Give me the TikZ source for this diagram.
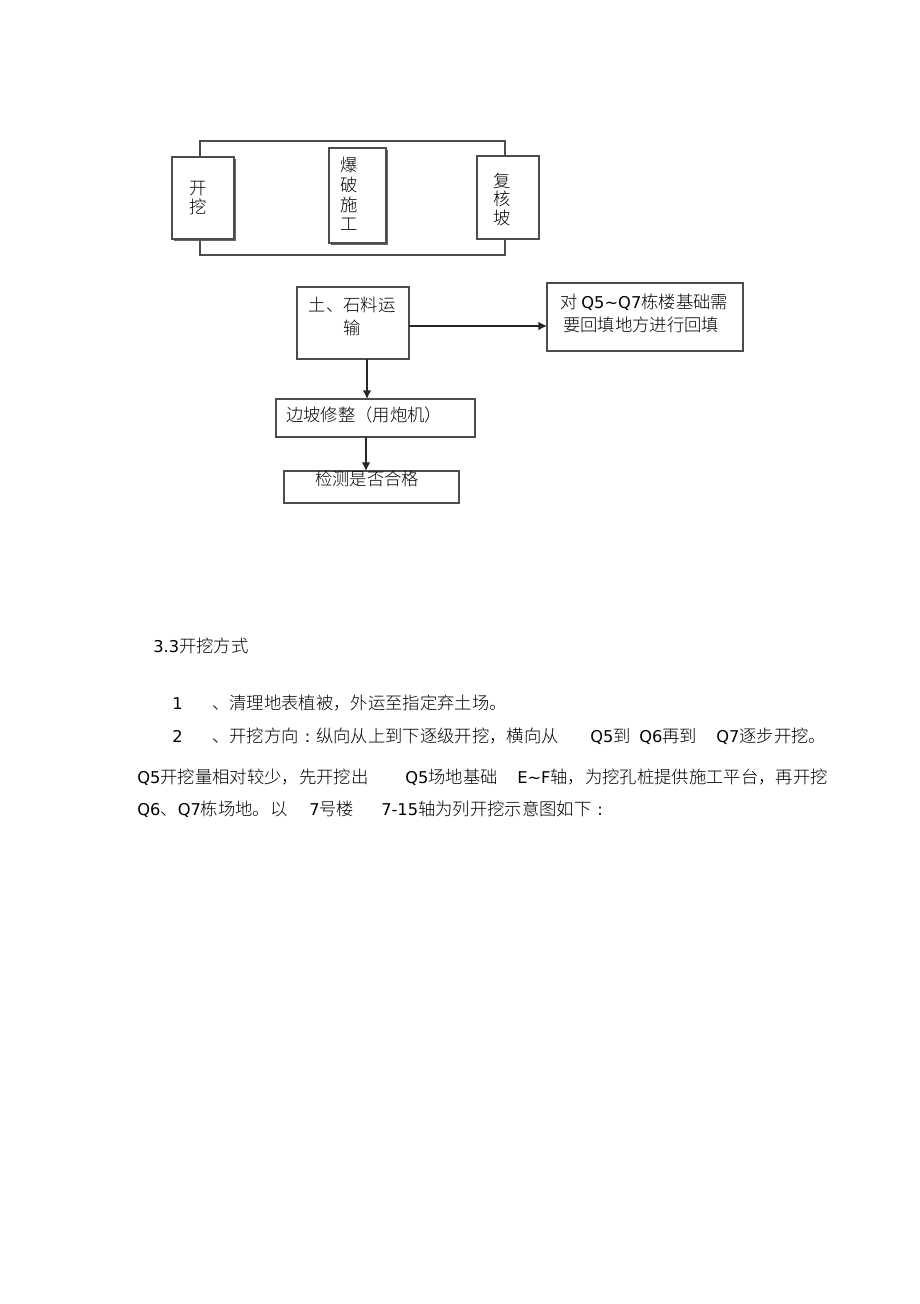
\documentclass[tikz,border=0pt]{standalone}
\usepackage{fontspec}
\setmainfont{Noto Sans CJK SC}[UprightFont=* Light]
\newfontfamily\latf{DejaVu Sans}
\newcommand\lt[1]{{\latf\fontsize{12.2}{14}\selectfont #1}}
\newcommand\fwcolon{\makebox[13pt]{\lt{:}}}
\usetikzlibrary{arrows.meta,shadows}
\newdimen\px \px=0.75pt
\begin{document}
\begin{tikzpicture}[x=0.75pt,y=-0.75pt,
  box/.style={draw=black!70, line width=1pt, fill=white, inner sep=0pt, outer sep=0pt},
  shbox/.style={box, general shadow={fill=black!60, shadow xshift=1.3pt, shadow yshift=-1.3pt}},
  lbl/.style={inner sep=0pt, font=\fontsize{13}{15}\selectfont, text height=11.4pt, text depth=1.6pt},
  para/.style={lbl, anchor=west},
  arr/.style={draw=black!85, line width=1pt, -{Latex[length=6.5pt,width=6.5pt]}}]

\fill[white] (0,0) rectangle (920,1304);
\useasboundingbox (0,0) rectangle (920,1304);

% top frame
\draw[draw=black!70, line width=1pt] (200,141) rectangle (505,255);
\node[shbox, minimum width=62\px, minimum height=82\px] (kw) at (203,198) {};
\node[shbox, minimum width=57\px, minimum height=95\px] (bp) at (357.5,195.5) {};
\node[box, minimum width=62\px, minimum height=83\px] (fh) at (508,197.5) {};
\node[lbl] (kw1) at (198,188) {开};
\node[lbl] (kw2) at (198,207) {挖};
\node[lbl] (bp1) at (349,165) {爆};
\node[lbl] (bp2) at (349,185) {破};
\node[lbl] (bp3) at (349,205) {施};
\node[lbl] (bp4) at (349,224) {工};
\node[lbl] (fh1) at (502,181) {复};
\node[lbl] (fh2) at (502,199) {核};
\node[lbl] (fh3) at (502,218) {坡};

% flow boxes
\node[box, minimum width=112\px, minimum height=72\px] (A) at (353,323) {};
\node[box, minimum width=196\px, minimum height=68\px] (B) at (645,317) {};
\node[box, minimum width=199\px, minimum height=38\px] (C) at (375.5,418) {};
\node[box, minimum width=175\px, minimum height=32\px] (D) at (371.5,487) {};

\node[lbl] (A1) at (352,305) {土、石料运};
\node[lbl] (A2) at (352,328) {输};
\node[para] (B1) at (560,302) {对 \lt{Q5\textasciitilde Q7}栋楼基础需};
\node[para] (B2) at (563,325) {要回填地方进行回填};
\node[para] (C1) at (286,415) {边坡修整（用炮机）};
\node[lbl] (D1) at (367,479) {检测是否合格};

\coordinate (ya) at (0,326);
\coordinate (xa) at (367,0);
\coordinate (xb) at (366,0);
\draw[arr] (A.east |- ya) -- (B.west |- ya);
\draw[arr] (A.south -| xa) -- (C.north -| xa);
\draw[arr] (C.south -| xb) -- (D.north -| xb);

% paragraph text
\node[para] (h) at (153,646) {\lt{3.3}开挖方式};
\node[para] (n1) at (172,703) {\lt{1}};
\node[para] (t1) at (212,703) {、清理地表植被，外运至指定弃土场。};
\node[para] (n2) at (172,736) {\lt{2}};
\node[para] (t2a) at (212,736) {、开挖方向\fwcolon 纵向从上到下逐级开挖，横向从};
\node[para] (t2b) at (590,736) {\lt{Q5}到};
\node[para] (t2c) at (639,736) {\lt{Q6}再到};
\node[para] (t2d) at (716,736) {\lt{Q7}逐步开挖。};
\node[para] (t3a) at (137,777) {\lt{Q5}开挖量相对较少，先开挖出};
\node[para] (t3b) at (405,777) {\lt{Q5}场地基础};
\node[para] (t3c) at (517,777) {\lt{E\textasciitilde F}轴，为挖孔桩提供施工平台，再开挖};
\node[para] (t4a) at (137,809) {\lt{Q6}、\lt{Q7}栋场地。以};
\node[para] (t4b) at (309,809) {\lt{7}号楼};
\node[para] (t4c) at (381,809) {\lt{7-15}轴为列开挖示意图如下\fwcolon};
\end{tikzpicture}
\end{document}
